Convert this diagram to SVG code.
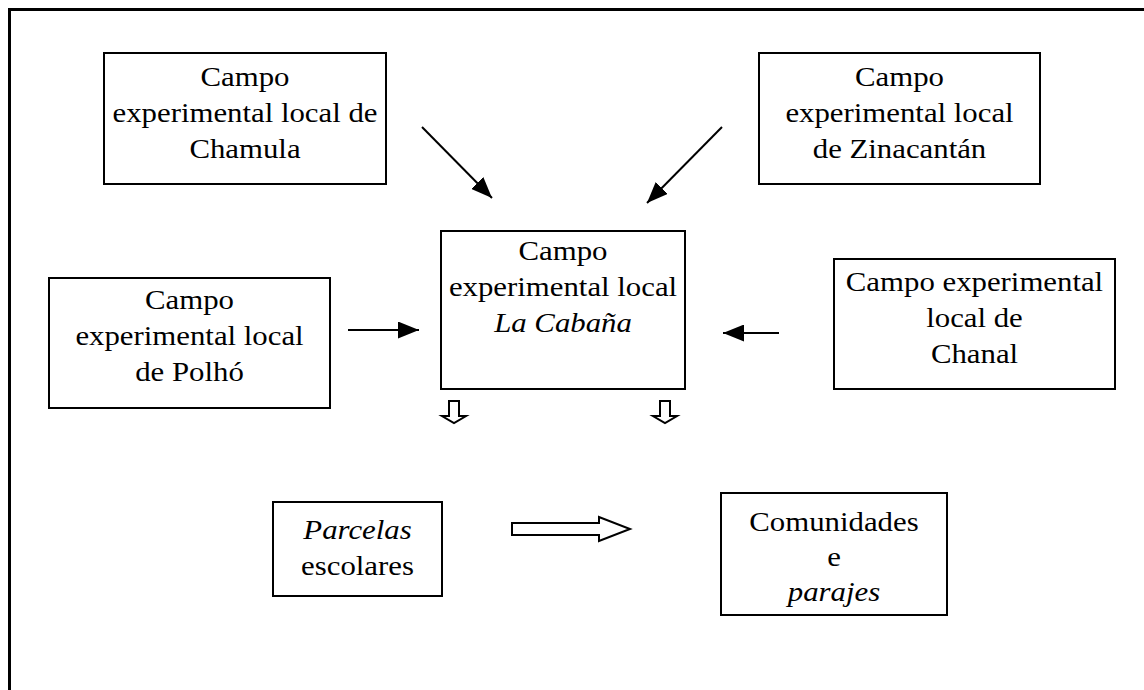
<svg xmlns="http://www.w3.org/2000/svg" width="1144" height="690" viewBox="0 0 1144 690">
<style>
.box{fill:#fff;stroke:#000;stroke-width:2}
.t{font-family:"Liberation Serif","Times New Roman",serif;font-size:28px;fill:#000;text-anchor:middle}
.i{font-style:italic}
.ln{stroke:#000;stroke-width:2;fill:none}
.ha{fill:#fff;stroke:#000;stroke-width:2;stroke-linejoin:miter}
</style>
<defs>
<marker id="ah" viewBox="0 0 10 10" refX="10" refY="5" markerWidth="21" markerHeight="17" markerUnits="userSpaceOnUse" orient="auto" preserveAspectRatio="none">
<path d="M0,0 L10,5 L0,10 Z" fill="#000"/>
</marker>
</defs>
<rect width="1144" height="690" fill="#fff"/>
<g id="frame">
<path d="M9.5,690 V9.5 H1144" class="ln" style="stroke-width:3"/>
</g>
<g id="chamula">
<rect class="box" x="104" y="53" width="282" height="131"/>
<g transform="translate(245,0) scale(1.1,1)">
<text class="t" x="0" y="86">Campo</text>
<text class="t" x="0" y="122">experimental local de</text>
<text class="t" x="0" y="158">Chamula</text>
</g>
</g>
<g id="zinacantan">
<rect class="box" x="759" y="53" width="281" height="131"/>
<g transform="translate(899.5,0) scale(1.1,1)">
<text class="t" x="0" y="86">Campo</text>
<text class="t" x="0" y="122">experimental local</text>
<text class="t" x="0" y="158">de Zinacantán</text>
</g>
</g>
<g id="polho">
<rect class="box" x="49" y="278" width="281" height="130"/>
<g transform="translate(189.5,0) scale(1.1,1)">
<text class="t" x="0" y="309">Campo</text>
<text class="t" x="0" y="345">experimental local</text>
<text class="t" x="0" y="381">de Polhó</text>
</g>
</g>
<g id="cabana">
<rect class="box" x="441" y="231" width="244" height="158"/>
<g transform="translate(563,0) scale(1.1,1)">
<text class="t" x="0" y="260">Campo</text>
<text class="t" x="0" y="296">experimental local</text>
<text class="t i" x="0" y="332">La Cabaña</text>
</g>
</g>
<g id="chanal">
<rect class="box" x="834" y="259" width="281" height="130"/>
<g transform="translate(974.5,0) scale(1.1,1)">
<text class="t" x="0" y="291">Campo experimental</text>
<text class="t" x="0" y="327">local de</text>
<text class="t" x="0" y="363">Chanal</text>
</g>
</g>
<g id="parcelas">
<rect class="box" x="273" y="502" width="169" height="94"/>
<g transform="translate(357.5,0) scale(1.1,1)">
<text class="t i" x="0" y="539">Parcelas</text>
<text class="t" x="0" y="575">escolares</text>
</g>
</g>
<g id="comunidades">
<rect class="box" x="721" y="493" width="226" height="122"/>
<g transform="translate(834,0) scale(1.1,1)">
<text class="t" x="0" y="531">Comunidades</text>
<text class="t" x="0" y="566">e</text>
<text class="t i" x="0" y="601">parajes</text>
</g>
</g>
<g id="connectors">
<line class="ln" x1="422" y1="127" x2="492" y2="198" marker-end="url(#ah)"/>
<line class="ln" x1="722" y1="127" x2="647" y2="203" marker-end="url(#ah)"/>
<line class="ln" x1="348" y1="330" x2="419" y2="330" marker-end="url(#ah)"/>
<line class="ln" x1="779" y1="333" x2="723" y2="333" marker-end="url(#ah)"/>
<path class="ha" d="M449,401 H459 V416 H466 L454,423 L442,416 H449 Z"/>
<path class="ha" d="M660,401 H670 V416 H677 L665,423 L653,416 H660 Z"/>
<path class="ha" d="M512,523 H599 V517 L630,529 L599,541 V535 H512 Z"/>
</g>
</svg>
